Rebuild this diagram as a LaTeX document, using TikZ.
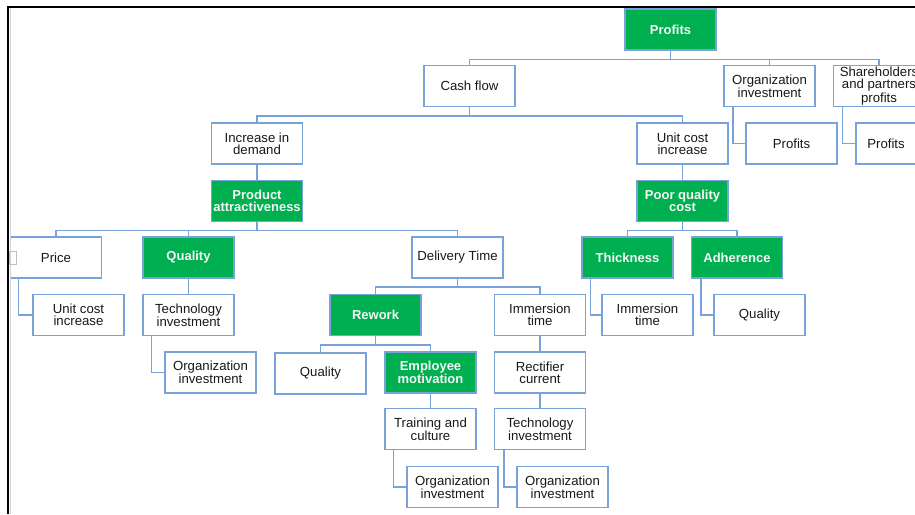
\documentclass[tikz,border=0pt]{standalone}
\usepackage{fontspec}
\setmainfont{Liberation Sans}
\definecolor{boxblue}{RGB}{120,162,216}
\definecolor{boxgreen}{RGB}{0,176,80}
\tikzset{
  box/.style={draw=boxblue, line width=1.5pt, fill=white,
    minimum width=91pt, minimum height=41pt, inner sep=0pt, align=center,
    text=black!90, font=\fontsize{13.2}{12}\selectfont},
  gbox/.style={box, fill=boxgreen, text=white!96!black,
    font=\fontsize{13}{12}\selectfont\bfseries},
  conn/.style={draw=boxblue, line width=1.5pt},
}
\begin{document}
\begin{tikzpicture}[x=1pt,y=-1pt]
\useasboundingbox (0,0) rectangle (915,514);
\fill[white] (0,0) rectangle (915,514);
\clip (0,0) rectangle (915,514);

% level 0 and 1
\node[gbox] (profits)  at (670.5,29.5) {Profits};
\node[box]  (cash)     at (469.5,86)   {Cash flow};
\node[box]  (orginvA)  at (769.5,86)   {Organization\\investment};
\node[box]  (share)    at (879,86)     {Shareholders\\and partners\\profits};
\node[box]  (profB)    at (791.5,143.5) {Profits};
\node[box, minimum width=60pt] (profC) at (886,143.5) {Profits};

% level 2
\node[box]  (incdem)   at (257,143.5)  {Increase in\\demand};
\node[box]  (unitA)    at (682.5,143.5) {Unit cost\\increase};
\node[gbox] (prodattr) at (257,201)    {Product\\attractiveness};
\node[gbox] (pqc)      at (682.5,201)  {Poor quality\\cost};

% level 3
\node[box]  (price)    at (56,257.5)   {Price};
\node[gbox] (qualA)    at (188.5,257.5) {Quality};
\node[box]  (delivery) at (457.5,257.5) {Delivery Time};
\node[gbox] (thick)    at (627.5,257.5) {Thickness};
\node[gbox] (adher)    at (737,257.5)  {Adherence};

% level 4
\node[box]  (unitB)    at (78.5,315)   {Unit cost\\increase};
\node[box]  (techA)    at (188.5,315)  {Technology\\investment};
\node[gbox] (rework)   at (375.5,315)  {Rework};
\node[box]  (immA)     at (540,315)    {Immersion\\time};
\node[box]  (immB)     at (647.5,315)  {Immersion\\time};
\node[box]  (qualD)    at (759.5,315)  {Quality};

% level 5
\node[box]  (orginvB)  at (210.5,372.5) {Organization\\investment};
\node[box]  (qualB)    at (320.5,373.5) {Quality};
\node[gbox] (empmot)   at (430.5,372.5) {Employee\\motivation};
\node[box]  (rect)     at (540,372.5)  {Rectifier\\current};

% level 6 and 7
\node[box]  (train)    at (430.5,429)  {Training and\\culture};
\node[box]  (techB)    at (540,429)    {Technology\\investment};
\node[box]  (orginvC)  at (452.5,487)  {Organization\\investment};
\node[box]  (orginvD)  at (562.5,487)  {Organization\\investment};

% bus connectors (parent -> children)
\foreach \c in {cash,orginvA,share}
  \draw[conn] (profits.south) -- ++(0,8.5) -| (\c.north);
\foreach \c in {incdem,unitA}
  \draw[conn] (cash.south) -- ++(0,8.5) -| (\c.north);
\foreach \c in {price,qualA,delivery}
  \draw[conn] (prodattr.south) -- ++(0,8) -| (\c.north);
\foreach \c in {rework,immA}
  \draw[conn] (delivery.south) -- ++(0,8) -| (\c.north);
\foreach \c in {qualB,empmot}
  \draw[conn] (rework.south) -- ++(0,8.5) -| (\c.north);
\foreach \c in {thick,adher}
  \draw[conn] (pqc.south) -- ++(0,8) -| (\c.north);

% straight connectors
\draw[conn] (incdem) -- (prodattr);
\draw[conn] (unitA) -- (pqc);
\draw[conn] (qualA) -- (techA);
\draw[conn] (empmot) -- (train);
\draw[conn] (immA) -- (rect);
\draw[conn] (rect) -- (techB);

% elbow connectors
\draw[conn] ([xshift=9.5pt]orginvA.south west) |- (profB.west);
\draw[conn] ([xshift=9.5pt]share.south west) |- (profC.west);
\draw[conn] ([xshift=8.5pt]price.south west) |- (unitB.west);
\draw[conn] ([xshift=9pt]techA.south west) |- (orginvB.west);
\draw[conn] ([xshift=9pt]train.south west) |- (orginvC.west);
\draw[conn] ([xshift=10pt]techB.south west) |- (orginvD.west);
\draw[conn] ([xshift=9pt]thick.south west) |- (immB.west);
\draw[conn] ([xshift=10pt]adher.south west) |- (qualD.west);

% frame
\draw[draw=black!25, fill=white, line width=0.8pt] (9,251) rectangle (16.5,264);
\draw[black!18, line width=1.5pt] (10.7,7) -- (10.7,514);
\draw[black, line width=2pt] (7.5,514) -- (7.5,6.5) -- (915,6.5);
\end{tikzpicture}
\end{document}
